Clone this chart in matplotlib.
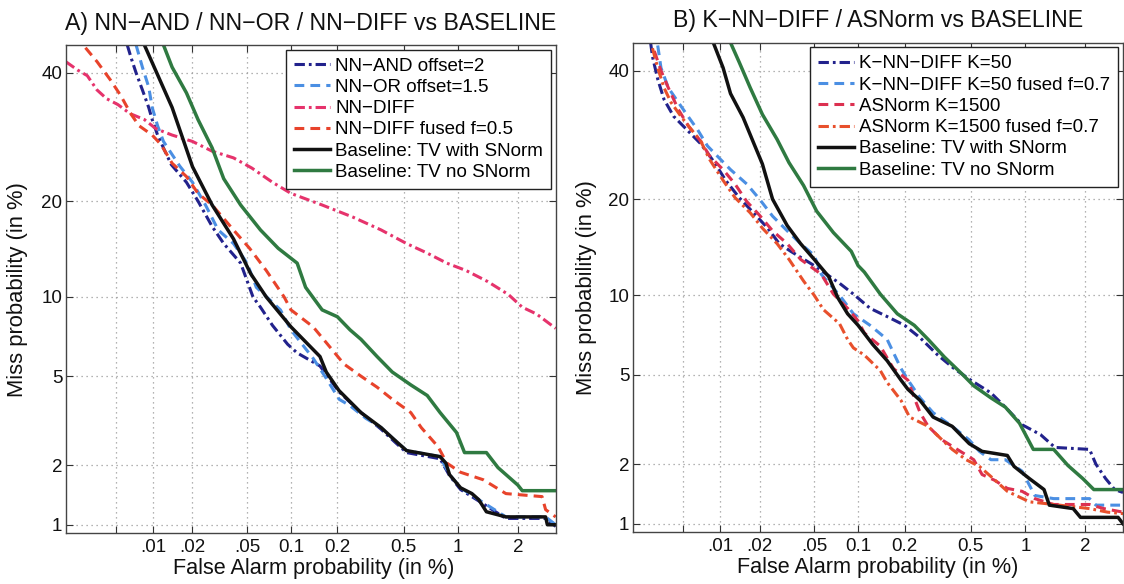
import math
import numpy as np
import matplotlib
matplotlib.use("Agg")
import matplotlib.pyplot as plt
from matplotlib.ticker import NullLocator

plt.rcParams['font.family'] = ['Liberation Sans', 'DejaVu Sans']

# ---------------- data (all values in %) ----------------
# Panel A
a_and_fa = [0.0062, 0.0067, 0.0073, 0.0082, 0.0092, 0.0098, 0.0108, 0.012, 0.0138, 0.018,
            0.022, 0.028, 0.034, 0.045, 0.055, 0.062, 0.075, 0.095, 0.11, 0.155,
            0.205, 0.28, 0.37, 0.44, 0.52, 0.8, 0.9, 1.03, 1.28, 1.75, 2.7, 3.0]
a_and_miss = [45, 42.5, 40, 37, 34, 32, 29.5, 27.5, 25, 22.5,
              20, 16.9, 15, 13, 10, 9.2, 7.9, 6.7, 6.2, 5.5,
              4.3, 3.5, 2.95, 2.6, 2.3, 2.15, 1.78, 1.52, 1.33, 1.08, 1.08, 0.98]

a_or_fa = [0.0073, 0.0082, 0.0092, 0.0098, 0.0108, 0.012, 0.016, 0.02, 0.025, 0.031,
           0.04, 0.05, 0.058, 0.085, 0.1, 0.14, 0.17, 0.205, 0.24, 0.3,
           0.37, 0.44, 0.52, 0.8, 0.9, 1.03, 1.28, 1.75, 2.7, 3.0]
a_or_miss = [45, 41, 37.5, 34, 31, 28.5, 24.8, 22.5, 19.5, 16.5,
             15, 13, 10.8, 9, 7.6, 5.9, 4.9, 4.0, 3.75, 3.3,
             3.0, 2.65, 2.35, 2.2, 1.8, 1.55, 1.35, 1.1, 1.1, 1.0]

a_diff_fa = [0.0019, 0.0024, 0.0029, 0.0035, 0.0042, 0.0052, 0.0065, 0.0085, 0.0105, 0.014,
             0.02, 0.028, 0.04, 0.054, 0.075, 0.1, 0.16, 0.25, 0.37, 0.52,
             0.68, 0.87, 1.1, 1.42, 1.8, 2.1, 2.45, 3.0]
a_diff_miss = [42, 40.5, 39.5, 37, 35.5, 34.5, 33, 32, 30.5, 29.5,
               28.5, 27, 26, 24.5, 22.5, 21, 19.5, 18, 16.5, 15,
               14, 13, 12.3, 11.3, 10.2, 9.2, 8.7, 7.7]

a_fused_fa = [0.0028, 0.0035, 0.0045, 0.0055, 0.0066, 0.0077, 0.0098, 0.0115, 0.014, 0.018,
              0.022, 0.028, 0.04, 0.052, 0.068, 0.09, 0.1, 0.14, 0.17, 0.22,
              0.28, 0.35, 0.43, 0.55, 0.63, 0.78, 0.87, 1.03, 1.35, 1.75, 2.6, 2.7, 3.0]
a_fused_miss = [44.5, 42, 38.8, 36, 33, 31, 29.5, 28, 25.2, 23.3,
                21, 19.5, 16.5, 14.5, 12.3, 10, 9, 7.8, 6.8, 5.6,
                5.0, 4.5, 4.0, 3.5, 3.0, 2.45, 2.05, 1.85, 1.7, 1.45, 1.4, 1.2, 1.1]

a_base_fa = [0.0085, 0.014, 0.02, 0.028, 0.04, 0.053, 0.068, 0.1, 0.155, 0.17,
             0.205, 0.28, 0.37, 0.44, 0.52, 0.8, 0.86, 0.9, 1.03, 1.18,
             1.28, 1.4, 1.75, 2.7, 2.75, 3.0]
a_base_miss = [45, 34, 24.7, 19.5, 15.5, 12.0, 10, 7.8, 6.0, 5.2,
               4.35, 3.5, 3.0, 2.65, 2.35, 2.2, 2.05, 1.8, 1.55, 1.45,
               1.35, 1.17, 1.1, 1.1, 1.0, 1.0]

a_nosn_fa = [0.012, 0.014, 0.018, 0.022, 0.028, 0.034, 0.045, 0.062, 0.082, 0.11,
             0.125, 0.16, 0.2, 0.24, 0.28, 0.35, 0.43, 0.55, 0.68, 0.8,
             0.98, 1.08, 1.4, 1.6, 2.0, 2.1, 3.0]
a_nosn_miss = [45, 41, 36.5, 32, 27.5, 23, 19.5, 16.5, 14.5, 13,
               10.8, 9, 8.5, 7.6, 7.0, 6.0, 5.2, 4.6, 4.15, 3.5,
               2.85, 2.3, 2.3, 1.95, 1.6, 1.5, 1.5]

# Panel B
b_knn_fa = [0.0027, 0.0028, 0.0031, 0.0035, 0.0042, 0.0056, 0.007, 0.009, 0.011, 0.014,
            0.018, 0.023, 0.028, 0.034, 0.05, 0.075, 0.093, 0.12, 0.155, 0.2,
            0.25, 0.32, 0.4, 0.5, 0.65, 0.78, 0.96, 1.2, 1.42, 2.1, 2.25, 2.5, 2.75, 3.0]
b_knn_miss = [45, 42.5, 38.5, 35, 32.2, 29.7, 27.8, 25, 22.5, 20.2,
              18.3, 16.5, 14.8, 14.0, 12.6, 11, 10.1, 9.0, 8.4, 7.8,
              7.0, 6.0, 5.3, 4.75, 4.2, 3.65, 3.05, 2.75, 2.4, 2.35, 2.0, 1.7, 1.5, 1.45]

b_knnf_fa = [0.0031, 0.0033, 0.0038, 0.0046, 0.0056, 0.0066, 0.0079, 0.01, 0.012, 0.016,
             0.02, 0.025, 0.032, 0.04, 0.05, 0.056, 0.075, 0.093, 0.12, 0.155,
             0.19, 0.215, 0.25, 0.3, 0.39, 0.49, 0.56, 0.65, 0.78, 0.96,
             1.12, 1.4, 2.1, 2.25, 3.0]
b_knnf_miss = [44.5, 40.5, 37, 34.5, 32, 30, 27.5, 25.5, 24, 22,
               20, 17.9, 16.2, 14.8, 13.6, 11.8, 10, 8.6, 7.8, 6.9,
               5.3, 4.65, 4.0, 3.45, 3.0, 2.6, 2.3, 2.1, 2.1, 1.85,
               1.4, 1.35, 1.35, 1.25, 1.25]

b_as_fa = [0.0029, 0.0033, 0.0038, 0.0046, 0.0056, 0.007, 0.0082, 0.0105, 0.013, 0.016,
           0.02, 0.025, 0.032, 0.04, 0.056, 0.068, 0.085, 0.1, 0.11, 0.14,
           0.17, 0.21, 0.23, 0.25, 0.28, 0.34, 0.4, 0.52, 0.58, 0.68,
           0.8, 0.96, 1.12, 1.4, 2.1, 2.45, 3.0]
b_as_miss = [43.5, 40, 37, 33.3, 30.5, 28.2, 26, 24, 22, 19.7,
             18, 16.2, 14.8, 13.2, 11.8, 10.1, 9.0, 8.1, 7.3, 6.5,
             5.3, 4.75, 4.0, 3.45, 3.0, 2.6, 2.4, 2.1, 1.78, 1.67,
             1.52, 1.47, 1.35, 1.26, 1.26, 1.2, 1.15]

b_asf_fa = [0.0028, 0.0031, 0.0035, 0.004, 0.0049, 0.0059, 0.007, 0.0082, 0.0105, 0.013,
            0.017, 0.021, 0.027, 0.033, 0.042, 0.05, 0.058, 0.075, 0.085, 0.093,
            0.11, 0.14, 0.155, 0.19, 0.215, 0.28, 0.34, 0.39, 0.47, 0.56,
            0.67, 0.8, 1.05, 1.4, 2.1, 2.55, 3.0]
b_asf_miss = [44, 40.5, 37, 34.5, 32, 30, 28.2, 25.5, 22.5, 20.2,
              18.3, 16.5, 14.8, 13.2, 11.2, 10, 8.9, 7.9, 6.9, 6.4,
              6.0, 5.2, 4.65, 3.9, 3.3, 3.0, 2.6, 2.35, 2.1, 1.95,
              1.7, 1.47, 1.3, 1.26, 1.2, 1.15, 1.13]

b_base_fa = [0.0088, 0.0105, 0.012, 0.015, 0.018, 0.021, 0.025, 0.032, 0.04, 0.05,
             0.063, 0.073, 0.085, 0.1, 0.125, 0.155, 0.19, 0.21, 0.25, 0.3,
             0.39, 0.49, 0.58, 0.8, 0.87, 1.05, 1.25, 1.33, 1.75, 1.9, 2.85, 3.0]
b_base_miss = [45, 40.5, 36, 32, 28, 24.8, 20, 16.8, 14.8, 13.2,
               11.6, 9.8, 8.6, 7.8, 6.6, 5.7, 4.75, 4.35, 3.9, 3.3,
               3.0, 2.5, 2.3, 2.2, 1.95, 1.7, 1.5, 1.25, 1.2, 1.08, 1.08, 1.0]

b_nosn_fa = [0.012, 0.014, 0.017, 0.021, 0.027, 0.033, 0.042, 0.052, 0.068, 0.09,
             0.1, 0.11, 0.14, 0.18, 0.23, 0.28, 0.35, 0.45, 0.52, 0.65,
             0.78, 0.93, 1.1, 1.4, 1.65, 1.95, 2.2, 3.0]
b_nosn_miss = [45, 41.5, 37, 32.5, 28.5, 25, 21.8, 18.5, 16, 14,
               12.6, 12, 10.1, 8.6, 7.8, 6.9, 5.9, 5.0, 4.5, 4.0,
               3.65, 3.1, 2.35, 2.35, 1.97, 1.7, 1.5, 1.5]

titles = ["A) NN\u2212AND / NN\u2212OR / NN\u2212DIFF vs BASELINE",
          "B) K\u2212NN\u2212DIFF / ASNorm vs BASELINE"]
x_ticks = [0.005, 0.01, 0.02, 0.05, 0.1, 0.2, 0.5, 1, 2]
x_ticklabels = ["", ".01", ".02", ".05", "0.1", "0.2", "0.5", "1", "2"]
y_ticks = [1, 2, 5, 10, 20, 40]
y_ticklabels = ["1", "2", "5", "10", "20", "40"]

# ---------------- probit scale helpers ----------------
_A = [-3.969683028665376e+01, 2.209460984245205e+02, -2.759285104469687e+02,
      1.383577518672690e+02, -3.066479806614716e+01, 2.506628277459239e+00]
_B = [-5.447609879822406e+01, 1.615858368580409e+02, -1.556989798598866e+02,
      6.680131188771972e+01, -1.328068155288572e+01]
_C = [-7.784894002430293e-03, -3.223964580411365e-01, -2.400758277161838e+00,
      -2.549732539343734e+00, 4.374664141464968e+00, 2.938163982698783e+00]
_D = [7.784695709041462e-03, 3.224671290700398e-01, 2.445134137142996e+00,
      3.754408661907416e+00]


def norm_ppf(q):
    q = np.asarray(q, dtype=float)
    shape = q.shape
    q = np.clip(np.atleast_1d(q).ravel(), 1e-12, 1 - 1e-12)
    out = np.empty_like(q)
    plow = 0.02425
    lo = q < plow
    hi = q > 1 - plow
    mid = ~(lo | hi)
    if lo.any():
        t = np.sqrt(-2 * np.log(q[lo]))
        out[lo] = (((((_C[0]*t+_C[1])*t+_C[2])*t+_C[3])*t+_C[4])*t+_C[5]) / \
                  ((((_D[0]*t+_D[1])*t+_D[2])*t+_D[3])*t+1)
    if hi.any():
        t = np.sqrt(-2 * np.log(1 - q[hi]))
        out[hi] = -(((((_C[0]*t+_C[1])*t+_C[2])*t+_C[3])*t+_C[4])*t+_C[5]) / \
                   ((((_D[0]*t+_D[1])*t+_D[2])*t+_D[3])*t+1)
    if mid.any():
        u = q[mid] - 0.5
        r = u * u
        out[mid] = (((((_A[0]*r+_A[1])*r+_A[2])*r+_A[3])*r+_A[4])*r+_A[5]) * u / \
                   (((((_B[0]*r+_B[1])*r+_B[2])*r+_B[3])*r+_B[4])*r+1)
    return out.reshape(shape)


_erf = np.vectorize(math.erf)


def fwd(p):
    return norm_ppf(np.asarray(p, dtype=float) / 100.0)


def inv(z):
    z = np.asarray(z, dtype=float)
    return 100.0 * 0.5 * (1.0 + _erf(z / math.sqrt(2.0)))


# ---------------- styles ----------------
C_NAVY = '#22228c'
C_LBLUE = '#4b8fe3'
C_PINK = '#e6336c'
C_RED = '#e8432b'
C_CRIMSON = '#dc3050'
C_ORANGE = '#e8502c'
C_BLACK = '#111111'
C_GREEN = '#2f7a41'
DASH = (0, (3.2, 2.0))
DASHDOT = (0, (3.4, 1.3, 0.9, 1.3))
LW = 2.2

fig = plt.figure(figsize=(11.24, 5.84), dpi=100)
ax1 = fig.add_axes([0.05845, 0.08682, 0.43594, 0.83613])
ax2 = fig.add_axes([0.56290, 0.08853, 0.43622, 0.83836])

ax1.plot(a_and_fa, a_and_miss, color=C_NAVY, ls=DASHDOT, lw=LW, label="NN\u2212AND offset=2")
ax1.plot(a_or_fa, a_or_miss, color=C_LBLUE, ls=DASH, lw=LW, label="NN\u2212OR offset=1.5")
ax1.plot(a_diff_fa, a_diff_miss, color=C_PINK, ls=DASHDOT, lw=LW, label="NN\u2212DIFF")
ax1.plot(a_fused_fa, a_fused_miss, color=C_RED, ls=DASH, lw=LW, label="NN\u2212DIFF fused f=0.5")
ax1.plot(a_base_fa, a_base_miss, color=C_BLACK, ls='-', lw=LW + 0.3, label="Baseline: TV with SNorm")
ax1.plot(a_nosn_fa, a_nosn_miss, color=C_GREEN, ls='-', lw=LW + 0.3, label="Baseline: TV no SNorm")

ax2.plot(b_knn_fa, b_knn_miss, color=C_NAVY, ls=DASHDOT, lw=LW, label="K\u2212NN\u2212DIFF K=50")
ax2.plot(b_knnf_fa, b_knnf_miss, color=C_LBLUE, ls=DASH, lw=LW, label="K\u2212NN\u2212DIFF K=50 fused f=0.7")
ax2.plot(b_as_fa, b_as_miss, color=C_CRIMSON, ls=DASH, lw=LW, label="ASNorm K=1500")
ax2.plot(b_asf_fa, b_asf_miss, color=C_ORANGE, ls=DASHDOT, lw=LW, label="ASNorm K=1500 fused f=0.7")
ax2.plot(b_base_fa, b_base_miss, color=C_BLACK, ls='-', lw=LW + 0.3, label="Baseline: TV with SNorm")
ax2.plot(b_nosn_fa, b_nosn_miss, color=C_GREEN, ls='-', lw=LW + 0.3, label="Baseline: TV no SNorm")

for ax, title in zip((ax1, ax2), titles):
    ax.set_xscale('function', functions=(fwd, inv))
    ax.set_yscale('function', functions=(fwd, inv))
    ax.set_xlim(0.0019, 3.0)
    ax.set_ylim(0.9, 45)
    ax.set_xticks(x_ticks)
    ax.set_xticklabels(x_ticklabels)
    ax.set_yticks(y_ticks)
    ax.set_yticklabels(y_ticklabels)
    ax.xaxis.set_minor_locator(NullLocator())
    ax.yaxis.set_minor_locator(NullLocator())
    ax.tick_params(direction='in', top=True, right=True, length=5, width=0.8,
                   colors='#333333', labelcolor='#111111', labelsize=13.5)
    ax.tick_params(axis='x', pad=4)
    ax.tick_params(axis='y', pad=2.5)
    ax.grid(True, linestyle=(0, (1, 3)), color='#9a9a9a', linewidth=0.9)
    for s in ax.spines.values():
        s.set_color('#444444')
        s.set_linewidth(1.0)
    ax.set_title(title, fontsize=16.7, pad=11, color='#111111')
    ax.set_xlabel("False Alarm probability (in %)", fontsize=15.6, color='#111111')
    ax.set_ylabel("Miss probability (in %)", fontsize=15.8, color='#111111')
    leg = ax.legend(loc='upper right', fontsize=13.5, frameon=True, fancybox=False,
                    edgecolor='#222222', framealpha=1.0, borderaxespad=0.25,
                    labelspacing=0.22, handlelength=1.9, handletextpad=0.3,
                    borderpad=0.42)
    leg.get_frame().set_linewidth(1.0)

ax1.xaxis.set_label_coords(0.506, -0.05)
ax2.xaxis.set_label_coords(0.5, -0.05)
ax1.yaxis.set_label_coords(-0.077, 0.5)
ax2.yaxis.set_label_coords(-0.073, 0.5)

fig.savefig("out.png", dpi=100)
